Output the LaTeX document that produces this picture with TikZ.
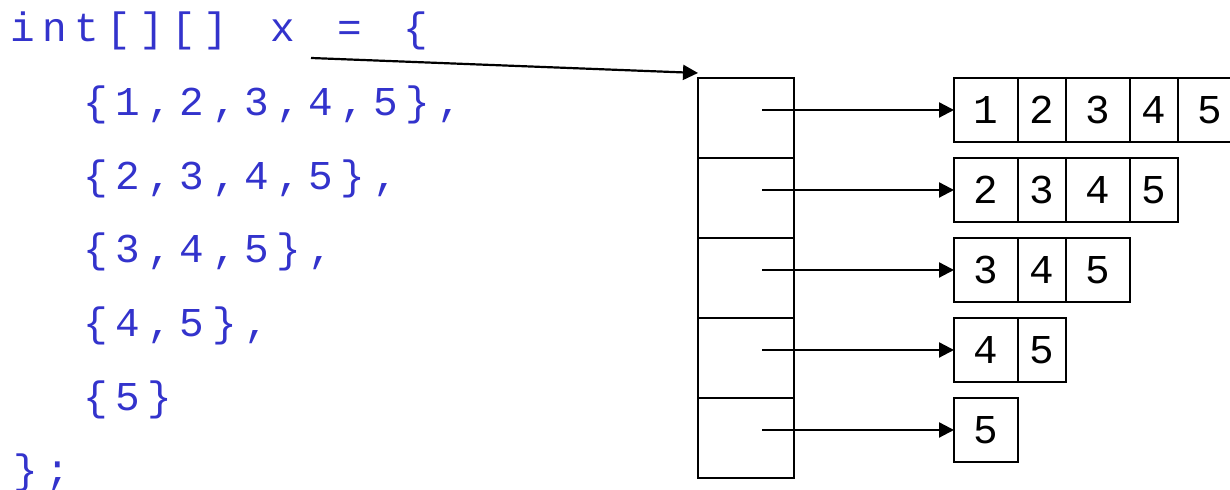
\documentclass[tikz,border=0pt]{standalone}
\usepackage{fontspec}
\usetikzlibrary{positioning,arrows.meta,calc}
\newfontfamily\codefont{Liberation Mono}[LetterSpace=18.5,WordSpace=1.31]
\newfontfamily\cellfont{Liberation Mono}
\definecolor{codeblue}{HTML}{3333CC}

\begin{document}
\begin{tikzpicture}[
    x=0.5pt, y=0.5pt,
    node distance=0pt and 0pt,
    code/.style={anchor=base west, inner sep=0pt, text=codeblue, font=\codefont\fontsize{20.5}{24}\selectfont},
    ptrcell/.style={rectangle, draw, line width=1.1pt, minimum width=48pt, minimum height=40pt, inner sep=0pt, outer sep=0pt},
    cell/.style={rectangle, draw, line width=1.1pt, minimum height=32pt, inner sep=0pt, outer sep=0pt, font=\cellfont\fontsize{20.5}{24}\selectfont},
    wcell/.style={cell, minimum width=32pt},
    ncell/.style={cell, minimum width=24pt},
    link/.style={-{Triangle[length=7.5pt, width=7.5pt]}, line width=1.1pt}
]
\useasboundingbox (0,0) rectangle (1230,490);

% --- source code on the left ---
\node[code] (line1) at (10,448)   {int[][] x = \{};
\node[code] (line2) at (83,374.3) {\{1,2,3,4,5\},};
\node[code] (line3) at (83,300.6) {\{2,3,4,5\},};
\node[code] (line4) at (83,227)   {\{3,4,5\},};
\node[code] (line5) at (83,153.2) {\{4,5\},};
\node[code] (line6) at (83,79.5)  {\{5\}};
\node[code] (line7) at (13,6)     {\};};

% --- column of references ---
\node[ptrcell] (ptr1) at (746,372) {};
\node[ptrcell, below=of ptr1] (ptr2) {};
\node[ptrcell, below=of ptr2] (ptr3) {};
\node[ptrcell, below=of ptr3] (ptr4) {};
\node[ptrcell, below=of ptr4] (ptr5) {};

% --- the row arrays ---
\node[wcell] (a11) at (986,380) {1};
\node[ncell, right=of a11] (a12) {2};
\node[wcell, right=of a12] (a13) {3};
\node[ncell, right=of a13] (a14) {4};
\node[wcell, right=of a14] (a15) {5};

\node[wcell, below=8pt of a11] (a21) {2};
\node[ncell, right=of a21] (a22) {3};
\node[wcell, right=of a22] (a23) {4};
\node[ncell, right=of a23] (a24) {5};

\node[wcell, below=8pt of a21] (a31) {3};
\node[ncell, right=of a31] (a32) {4};
\node[wcell, right=of a32] (a33) {5};

\node[wcell, below=8pt of a31] (a41) {4};
\node[ncell, right=of a41] (a42) {5};

\node[wcell, below=8pt of a41] (a51) {5};

% --- arrows ---
\coordinate (xvar) at (311,432);
\draw[link] (xvar) -- ([yshift=2.5pt]ptr1.north west);
\draw[link] ($(ptr1.center |- a11.west)+(8pt,0)$) -- (a11.west);
\draw[link] ($(ptr2.center |- a21.west)+(8pt,0)$) -- (a21.west);
\draw[link] ($(ptr3.center |- a31.west)+(8pt,0)$) -- (a31.west);
\draw[link] ($(ptr4.center |- a41.west)+(8pt,0)$) -- (a41.west);
\draw[link] ($(ptr5.center |- a51.west)+(8pt,0)$) -- (a51.west);

\end{tikzpicture}
\end{document}
